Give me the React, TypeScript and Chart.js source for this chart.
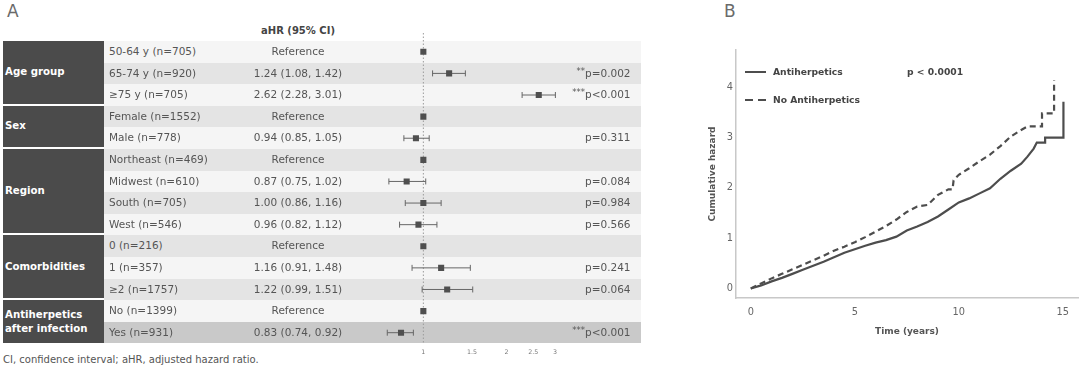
import React, { useEffect, useRef } from "react";
import { Chart, registerables } from "chart.js";

Chart.register(...registerables);

// ---------------- Panel A: forest plot data ----------------
const groupNames = ["Age group", "Sex", "Region", "Comorbidities", "Antiherpetics\nafter infection"];
const groupRowCounts = [3, 2, 4, 3, 2];
const rowLabels = [
  "50-64 y (n=705)", "65-74 y (n=920)", "≥75 y (n=705)",
  "Female (n=1552)", "Male (n=778)",
  "Northeast (n=469)", "Midwest (n=610)", "South (n=705)", "West (n=546)",
  "0 (n=216)", "1 (n=357)", "≥2 (n=1757)",
  "No (n=1399)", "Yes (n=931)",
];
const hrEstimate = [1, 1.24, 2.62, 1, 0.94, 1, 0.87, 1.0, 0.96, 1, 1.16, 1.22, 1, 0.83];
const ciLower: (number | null)[] = [null, 1.08, 2.28, null, 0.85, null, 0.75, 0.86, 0.82, null, 0.91, 0.99, null, 0.74];
const ciUpper: (number | null)[] = [null, 1.42, 3.01, null, 1.05, null, 1.02, 1.16, 1.12, null, 1.48, 1.51, null, 0.92];
const pStars = ["", "**", "***", "", "", "", "", "", "", "", "", "", "", "***"];
const pText = ["", "p=0.002", "p<0.001", "", "p=0.311", "", "p=0.084", "p=0.984", "p=0.566", "", "p=0.241", "p=0.064", "", "p<0.001"];
const forestTicks = [1, 1.5, 2, 2.5, 3];

// ---------------- Panel B: cumulative hazard data ----------------
const antiTime = [0, 0.5, 1, 1.5, 2, 2.5, 3, 3.5, 4, 4.5, 5, 5.5, 6, 6.5, 7, 7.5, 8, 8.5, 9, 9.5, 10, 10.5, 11, 11.5, 12, 12.5, 13, 13.3, 13.6, 13.75, 14.15, 14.15, 15.03, 15.03];
const antiHazard = [0, 0.06, 0.14, 0.21, 0.29, 0.37, 0.45, 0.53, 0.62, 0.71, 0.78, 0.85, 0.91, 0.96, 1.03, 1.15, 1.23, 1.32, 1.43, 1.57, 1.71, 1.79, 1.89, 1.99, 2.18, 2.34, 2.48, 2.62, 2.78, 2.9, 2.9, 3.0, 3.0, 3.71];
const noAntiTime = [0, 0.5, 1, 1.5, 2, 2.5, 3, 3.5, 4, 4.5, 5, 5.5, 6, 6.5, 7, 7.5, 8, 8.5, 9, 9.5, 9.7, 9.75, 10, 10.5, 11, 11.5, 12, 12.5, 13, 13.3, 14.0, 14.0, 14.58, 14.58];
const noAntiHazard = [0, 0.1, 0.2, 0.29, 0.38, 0.47, 0.56, 0.65, 0.75, 0.83, 0.92, 1.02, 1.13, 1.24, 1.37, 1.52, 1.63, 1.66, 1.86, 1.97, 1.97, 2.15, 2.26, 2.39, 2.53, 2.66, 2.83, 3.02, 3.15, 3.22, 3.22, 3.48, 3.48, 4.14];
const timeTicks = [0, 5, 10, 15];
const hazardTicks = [0, 1, 2, 3, 4];

const FONT = "'DejaVu Sans', sans-serif";
const ROW_TOP = 41;
const ROW_H = 21.6;
const TEXT = "#555";
const LINE = "#4d4d4d";

Chart.defaults.font.family = FONT;

function hrLabel(i: number) {
  if (ciLower[i] == null) return "Reference";
  return `${hrEstimate[i].toFixed(2)} (${(ciLower[i] as number).toFixed(2)}, ${(ciUpper[i] as number).toFixed(2)})`;
}

function ForestCanvas() {
  const ref = useRef<HTMLCanvasElement>(null);
  useEffect(() => {
    if (!ref.current) return;
    const n = rowLabels.length;
    const yTop = -0.37;
    const ciSets: any[] = [];
    rowLabels.forEach((_, i) => {
      if (ciLower[i] == null) return;
      ciSets.push({
        data: [
          { x: ciLower[i], y: i + 0.5 },
          { x: ciUpper[i], y: i + 0.5 },
        ],
        showLine: true,
        borderColor: "#666",
        borderWidth: 1,
        pointStyle: "line",
        pointRotation: 90,
        pointRadius: 3,
        pointBorderColor: "#666",
        pointBorderWidth: 1,
      });
    });
    const chart = new Chart(ref.current, {
      type: "scatter",
      data: {
        datasets: [
          {
            data: hrEstimate.map((v, i) => ({ x: v, y: i + 0.5 })),
            pointStyle: "rect",
            pointRadius: 4.3,
            pointBackgroundColor: "#4f4f4f",
            pointBorderWidth: 0,
            showLine: false,
          },
          ...ciSets,
          {
            data: [
              { x: 1, y: yTop },
              { x: 1, y: n },
            ],
            showLine: true,
            borderColor: "#9a9a9a",
            borderWidth: 1,
            borderDash: [1.5, 2],
            pointRadius: 0,
          },
        ],
      },
      options: {
        responsive: false,
        animation: false,
        devicePixelRatio: 1,
        layout: { padding: { top: 8, left: 0, right: 0, bottom: 0 } },
        plugins: { legend: { display: false }, tooltip: { enabled: false } },
        scales: {
          x: {
            type: "logarithmic",
            min: 0.52,
            max: 5.85,
            afterBuildTicks: (s: any) => {
              s.ticks = forestTicks.map((v) => ({ value: v }));
            },
            afterFit: (s: any) => {
              s.height = 26.5;
            },
            grid: { display: false, drawTicks: false },
            border: { display: false },
            ticks: {
              autoSkip: false,
              maxRotation: 0,
              padding: 5,
              color: "#777",
              font: { size: 6.3 },
              callback: (v: any) => String(v),
            },
          },
          y: {
            type: "linear",
            display: false,
            reverse: true,
            min: yTop,
            max: n,
          },
        },
      },
    } as any);
    return () => chart.destroy();
  }, []);
  return <canvas ref={ref} width={300} height={345} style={{ position: "absolute", left: 340, top: 25 }} />;
}

function HazardCanvas() {
  const ref = useRef<HTMLCanvasElement>(null);
  useEffect(() => {
    if (!ref.current) return;
    const chart = new Chart(ref.current, {
      type: "scatter",
      data: {
        datasets: [
          {
            data: antiTime.map((t, i) => ({ x: t, y: antiHazard[i] })),
            showLine: true,
            borderColor: LINE,
            borderWidth: 2.2,
            pointRadius: 0,
          },
          {
            data: noAntiTime.map((t, i) => ({ x: t, y: noAntiHazard[i] })),
            showLine: true,
            borderColor: LINE,
            borderWidth: 2.2,
            borderDash: [6, 4],
            pointRadius: 0,
          },
        ],
      },
      options: {
        responsive: false,
        animation: false,
        devicePixelRatio: 1,
        layout: { padding: { top: 10, left: 0, right: 2, bottom: 0 } },
        plugins: { legend: { display: false }, tooltip: { enabled: false } },
        scales: {
          x: {
            type: "linear",
            min: -0.71,
            max: 15.73,
            afterBuildTicks: (s: any) => {
              s.ticks = timeTicks.map((v) => ({ value: v }));
            },
            afterFit: (s: any) => {
              s.height = 72;
            },
            grid: { display: false, drawTicks: false },
            border: { display: true, color: "#c8c8c8", width: 1.5 },
            ticks: { padding: 9, color: "#666", font: { size: 9.8 }, maxRotation: 0 },
            title: {
              display: true,
              text: "Time (years)",
              color: "#555",
              font: { size: 9, weight: "bold" },
              padding: { top: 0, bottom: 33 },
            },
          },
          y: {
            type: "linear",
            min: -0.19,
            max: 4.74,
            afterBuildTicks: (s: any) => {
              s.ticks = hazardTicks.map((v) => ({ value: v }));
            },
            afterFit: (s: any) => {
              s.width = 46;
            },
            grid: { display: false, drawTicks: false },
            border: { display: true, color: "#c8c8c8", width: 1.5 },
            ticks: { padding: 3, color: "#666", font: { size: 9.8 } },
            title: {
              display: true,
              text: "Cumulative hazard",
              color: "#555",
              font: { size: 9, weight: "bold" },
              padding: { top: 17, bottom: 0 },
            },
          },
        },
      },
    } as any);
    return () => chart.destroy();
  }, []);
  return <canvas ref={ref} width={390} height={330} style={{ position: "absolute", left: 690, top: 40 }} />;
}

export default function App() {
  let start = 0;
  const groupCells = groupNames.map((g, gi) => {
    const top = ROW_TOP + start * ROW_H;
    const h = groupRowCounts[gi] * ROW_H - (gi < groupNames.length - 1 ? 2 : 0);
    start += groupRowCounts[gi];
    const lines = g.split("\n");
    return (
      <div
        key={g}
        style={{
          position: "absolute",
          left: 3,
          top,
          width: 101,
          height: h,
          background: "#4b4b4b",
          display: "flex",
          flexDirection: "column",
          justifyContent: "center",
          paddingLeft: 2,
          boxSizing: "border-box",
        }}
      >
        {lines.map((l) => (
          <div key={l} style={{ color: "#fff", fontWeight: "bold", fontSize: 10.2, lineHeight: "14px", whiteSpace: "nowrap" }}>
            {l}
          </div>
        ))}
      </div>
    );
  });

  const rowBgs = rowLabels.map((_, i) => (
    <div
      key={"bg" + i}
      style={{
        position: "absolute",
        left: 104,
        top: ROW_TOP + i * ROW_H,
        width: 537,
        height: ROW_H,
        background: i === rowLabels.length - 1 ? "#c9c9c9" : i % 2 === 0 ? "#f5f5f5" : "#e4e4e4",
      }}
    />
  ));

  const rowTexts = rowLabels.map((lab, i) => {
    const top = ROW_TOP + i * ROW_H;
    const base: React.CSSProperties = {
      position: "absolute",
      top,
      height: ROW_H,
      lineHeight: ROW_H + "px",
      fontSize: 10.5,
      color: TEXT,
      whiteSpace: "nowrap",
    };
    return (
      <React.Fragment key={"t" + i}>
        <div style={{ ...base, left: 109 }}>{lab}</div>
        <div style={{ ...base, left: 198, width: 200, textAlign: "center" }}>{hrLabel(i)}</div>
        {pStars[i] ? (
          <div style={{ ...base, left: 545, width: 40, textAlign: "right", fontSize: 8.5, top: top - 2 }}>{pStars[i]}</div>
        ) : null}
        {pText[i] ? <div style={{ ...base, left: 585 }}>{pText[i]}</div> : null}
      </React.Fragment>
    );
  });

  return (
    <div
      style={{
        position: "absolute",
        left: 0,
        top: 0,
        width: 1080,
        height: 370,
        background: "#fff",
        overflow: "hidden",
        fontFamily: FONT,
      }}
    >
      <div style={{ position: "absolute", left: 7, top: 2.6, fontSize: 17, lineHeight: "17px", color: "#6a6a6a" }}>A</div>
      <div style={{ position: "absolute", left: 724, top: 2.6, fontSize: 17, lineHeight: "17px", color: "#6a6a6a" }}>B</div>
      <div style={{ position: "absolute", left: 198, width: 200, top: 24, lineHeight: "14px", textAlign: "center", fontSize: 10, fontWeight: "bold", color: "#444" }}>
        aHR (95% CI)
      </div>
      {rowBgs}
      {groupCells}
      <ForestCanvas />
      {rowTexts}
      <div style={{ position: "absolute", left: 3, top: 353, lineHeight: "14px", fontSize: 10, color: TEXT, whiteSpace: "nowrap" }}>
        CI, confidence interval; aHR, adjusted hazard ratio.
      </div>

      <HazardCanvas />
      <div style={{ position: "absolute", left: 745, top: 71, width: 21, height: 2, background: LINE }} />
      <div style={{ position: "absolute", left: 745, top: 99, width: 8, height: 2, background: LINE }} />
      <div style={{ position: "absolute", left: 758, top: 99, width: 8, height: 2, background: LINE }} />
      <div style={{ position: "absolute", left: 773, top: 65, lineHeight: "14px", fontSize: 9.2, fontWeight: "bold", color: "#444" }}>Antiherpetics</div>
      <div style={{ position: "absolute", left: 773, top: 93, lineHeight: "14px", fontSize: 9.2, fontWeight: "bold", color: "#444" }}>No Antiherpetics</div>
      <div style={{ position: "absolute", left: 907, top: 65, lineHeight: "14px", fontSize: 9.2, fontWeight: "bold", color: "#444" }}>p &lt; 0.0001</div>
    </div>
  );
}
